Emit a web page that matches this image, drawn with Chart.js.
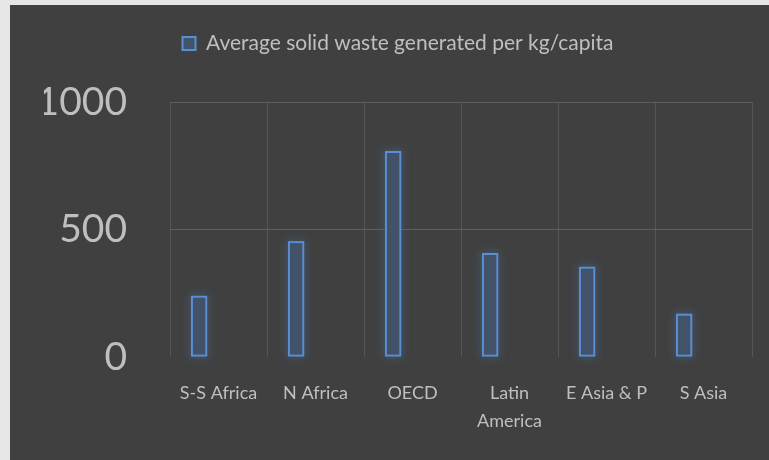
<!DOCTYPE html>
<html>
<head>
<meta charset="utf-8">
<script src="https://cdn.jsdelivr.net/npm/chart.js@4"></script>
<style>
  body { margin: 0; background: #e6e6e6; }
  #chart-container {
    position: absolute; left: 10px; top: 5px;
    width: 759px; height: 455px; background: #404040;
  }
</style>
</head>
<body>
<div id="chart-container"><canvas id="chart"></canvas></div>
<script>
const categories = ['S-S Africa', 'N Africa', 'OECD', ['Latin', 'America'], 'E Asia & P', 'S Asia'];
const wasteValues = [240, 454, 808, 408, 354, 170]; // kg per capita
const emptySeries = [null, null, null, null, null, null]; // second (empty) series keeps bars left of centre
const yTicks = [0, 500, 1000];

const textColor = '#bfbfbf';
const gridColor = '#555555';

// soft blue glow round the bars (bar elements clip their own shadow, so draw it underneath)
const glowPlugin = {
  id: 'glow',
  beforeDatasetsDraw(chart) {
    const ctx = chart.ctx;
    const meta = chart.getDatasetMeta(0);
    ctx.save();
    ctx.shadowColor = 'rgba(80, 145, 230, 0.9)';
    ctx.shadowBlur = 8;
    ctx.strokeStyle = 'rgba(90, 143, 211, 0.8)';
    ctx.lineWidth = 2;
    meta.data.forEach((bar) => {
      const left = bar.x - bar.width / 2;
      ctx.strokeRect(left + 1, bar.y + 1, bar.width - 2, bar.base - bar.y - 2);
    });
    ctx.restore();
  }
};

// extra room under the legend
const legendSpace = {
  id: 'legendSpace',
  beforeInit(chart) {
    const fit = chart.legend.fit;
    chart.legend.fit = function () {
      fit.bind(chart.legend)();
      this.height += 38;
    };
  }
};

const chartCanvas = document.getElementById('chart');
new Chart(chartCanvas, {
  type: 'bar',
  data: {
    labels: categories,
    datasets: [
      {
        label: 'Average solid waste generated per kg/capita',
        data: wasteValues,
        backgroundColor: '#425369',
        borderColor: '#5a8fd3',
        borderWidth: 2,
        borderSkipped: false,
      },
      {
        label: 'empty',
        data: emptySeries,
      },
    ],
  },
  options: {
    responsive: true,
    maintainAspectRatio: false,
    animation: false,
    categoryPercentage: 0.8,
    barPercentage: 0.42,
    layout: { padding: { left: 34, right: 17, top: 6, bottom: 0 } },
    plugins: {
      tooltip: { enabled: false },
      legend: {
        position: 'top',
        labels: {
          color: textColor,
          font: { family: 'Lato', size: 21 },
          boxWidth: 13,
          boxHeight: 13,
          padding: 22,
          filter: (item) => item.datasetIndex === 0,
        },
      },
    },
    scales: {
      x: {
        grid: { offset: true, color: gridColor, drawTicks: false },
        border: { display: false },
        ticks: {
          color: textColor,
          font: { family: 'Lato', size: 18, lineHeight: 1.55 },
          padding: 22,
          maxRotation: 0,
          autoSkip: false,
        },
        afterFit: (scale) => { scale.height = 103; },
      },
      y: {
        min: 0,
        max: 1000,
        afterBuildTicks: (scale) => { scale.ticks = yTicks.map(v => ({ value: v })); },
        grid: {
          color: (c) => (c.tick && c.tick.value === 0 ? 'rgba(0,0,0,0)' : '#5e5e5e'),
          drawTicks: false,
        },
        border: { display: false },
        ticks: {
          color: textColor,
          font: { family: 'Lato', size: 39 },
          padding: 43,
          callback: (v) => String(v),
        },
        afterFit: (scale) => { scale.width = 126; },
      },
    },
  },
  plugins: [glowPlugin, legendSpace],
});
</script>
</body>
</html>
